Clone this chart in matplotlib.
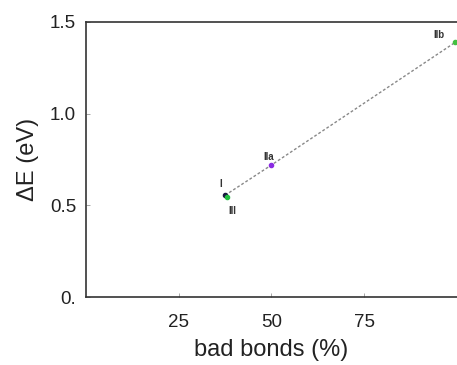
import matplotlib
matplotlib.use("Agg")
import matplotlib.pyplot as plt

plt.rcParams["font.family"] = ["Liberation Sans", "DejaVu Sans"]

names = ["I", "III", "IIa", "IIb"]
bad_bonds = [37.5, 38.0, 50.0, 99.5]
delta_e = [0.555, 0.545, 0.72, 1.39]
colors = ["#1a1a40", "#22c040", "#8a2be2", "#44c040"]
label_offsets = [(-3, 8), (4, -10), (-2, 6), (-12, 5)]

line_x = [37.5, 50.0, 100.0]
line_y = [0.555, 0.72, 1.395]

xticks = [25, 50, 75]
yticks = [0.0, 0.5, 1.0, 1.5]
ytick_labels = ["0.", "0.5", "1.0", "1.5"]

fig = plt.figure(figsize=(4.57, 3.65), dpi=100)
ax = fig.add_axes([0.188, 0.186, 0.812, 0.754])
ax.plot(line_x, line_y, linestyle=(0, (2, 1.5)), color="#888888", linewidth=1.0, zorder=2)
for n, x, y, c, off in zip(names, bad_bonds, delta_e, colors, label_offsets):
    ax.plot([x], [y], "o", color=c, markersize=3, zorder=3)
    ax.annotate(n, (x, y), xytext=off, textcoords="offset points", fontsize=7,
                fontweight="bold", color="#333333", ha="center", va="center")

ax.set_xlim(0, 100)
ax.set_ylim(0, 1.5)
ax.set_xticks(xticks)
ax.set_yticks(yticks)
ax.set_yticklabels(ytick_labels)
ax.tick_params(direction="in", length=3, labelsize=13.5, width=0.6, color="#999999",
               labelcolor="#222222")
ax.tick_params(axis="x", pad=12)
ax.tick_params(axis="y", pad=7)
ax.spines["right"].set_visible(False)
for s in ["left", "bottom", "top"]:
    ax.spines[s].set_linewidth(1.2)
    ax.spines[s].set_color("#333333")
ax.set_xlabel("bad bonds (%)", fontsize=17, labelpad=6, color="#222222")
ax.set_ylabel("ΔE (eV)", fontsize=17, labelpad=8, color="#222222")
fig.savefig("out.png", dpi=100)
